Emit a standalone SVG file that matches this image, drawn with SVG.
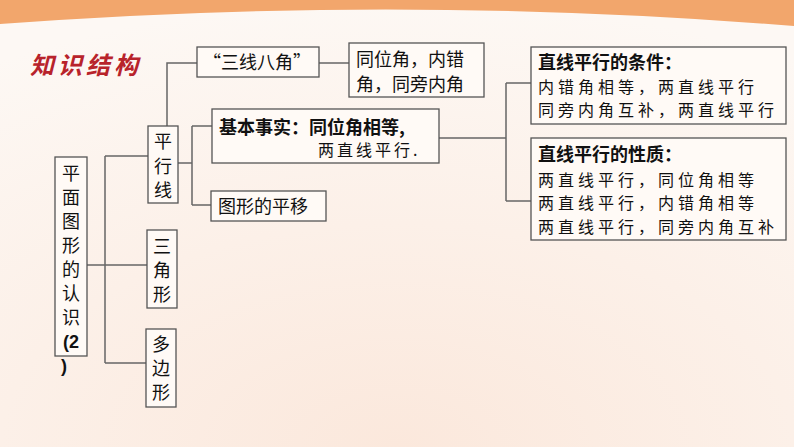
<svg xmlns="http://www.w3.org/2000/svg" width="794" height="447" viewBox="0 0 794 447">
<style>
.b{fill:#fffaf6;stroke:#555;stroke-width:1.3}
.t{font-family:"Noto Sans CJK SC","Liberation Sans",sans-serif;font-size:18px;fill:#111}
.s{font-size:16px;letter-spacing:3px}
.r{font-size:16px;letter-spacing:4px}
.h{font-weight:bold}
.c{stroke:#666;stroke-width:1.5;fill:none}
</style>
<defs><radialGradient id="bg" cx="0.5" cy="1" r="1"><stop offset="0" stop-color="#fbe8dc"/><stop offset="1" stop-color="#fdf8f4"/></radialGradient></defs>
<rect width="794" height="447" fill="url(#bg)"/>
<path d="M0 0H794V26Q400 -6 0 24Z" fill="#f2a66c"/>
<text x="30" y="74" font-family="Noto Sans CJK SC,sans-serif" font-size="24" font-weight="bold" font-style="italic" fill="#b8232b" letter-spacing="4">知识结构</text>
<g id="connectors" class="c">
<path d="M87 265H105M105 156V363M105 156H148M105 265H147M105 363H146"/>
<path d="M167 126V63H197M319 63H349"/>
<path d="M178 163H192M192 126V205M192 126H212M192 205H211"/>
<path d="M439 138H506M506 83V201M506 83H531M506 201H531"/>
</g>
<g id="root"><rect class="b" x="55" y="157" width="32" height="199"/>
<text class="t" text-anchor="middle" font-size="19"><tspan x="71" y="180">平</tspan><tspan x="71" y="204">面</tspan><tspan x="71" y="228">图</tspan><tspan x="71" y="252">形</tspan><tspan x="71" y="276">的</tspan><tspan x="71" y="300">认</tspan><tspan x="71" y="324">识</tspan><tspan x="71" y="348" font-weight="bold" font-family="Liberation Sans,sans-serif">(2</tspan><tspan x="64" y="372" font-weight="bold" font-family="Liberation Sans,sans-serif">)</tspan></text></g>
<g id="pxx"><rect class="b" x="148" y="126" width="30" height="77"/>
<text class="t" text-anchor="middle"><tspan x="163" y="148">平</tspan><tspan x="163" y="173">行</tspan><tspan x="163" y="197">线</tspan></text></g>
<g id="sjx"><rect class="b" x="147" y="230" width="30" height="78"/>
<text class="t" text-anchor="middle"><tspan x="162" y="253">三</tspan><tspan x="162" y="277">角</tspan><tspan x="162" y="301">形</tspan></text></g>
<g id="dbx"><rect class="b" x="146" y="329" width="30" height="78"/>
<text class="t" text-anchor="middle"><tspan x="161" y="351">多</tspan><tspan x="161" y="375">边</tspan><tspan x="161" y="399">形</tspan></text></g>
<g id="sxbj"><rect class="b" x="197" y="47" width="122" height="30"/>
<text class="t" x="203" y="69">“三线八角”</text></g>
<g id="tw"><rect class="b" x="349" y="43" width="135" height="54"/>
<text class="t"><tspan x="356" y="66">同位角，内错</tspan><tspan x="356" y="91">角，同旁内角</tspan></text></g>
<g id="jbss"><rect class="b" x="212" y="109" width="227" height="54"/>
<text class="t h" x="219" y="134">基本事实：同位角相等,</text>
<text class="t s" x="318" y="156">两直线平行.</text></g>
<g id="py"><rect class="b" x="211" y="191" width="115" height="30"/>
<text class="t" x="218" y="213">图形的平移</text></g>
<g id="tj"><rect class="b" x="531" y="47" width="255" height="77"/>
<text class="t h" x="538" y="69">直线平行的条件：</text>
<text class="t r"><tspan x="538" y="93">内错角相等，两直线平行</tspan><tspan x="538" y="116">同旁内角互补，两直线平行</tspan></text></g>
<g id="xz"><rect class="b" x="531" y="138" width="255" height="102"/>
<text class="t h" x="538" y="161">直线平行的性质：</text>
<text class="t r"><tspan x="538" y="186">两直线平行，同位角相等</tspan><tspan x="538" y="209">两直线平行，内错角相等</tspan><tspan x="538" y="233">两直线平行，同旁内角互补</tspan></text></g>
</svg>
